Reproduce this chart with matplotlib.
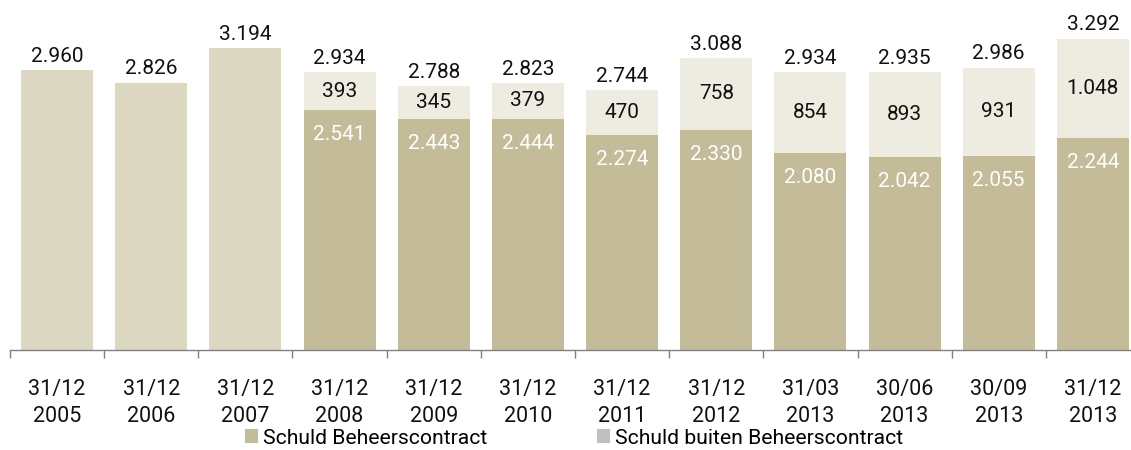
import matplotlib
matplotlib.use("Agg")
import matplotlib.pyplot as plt
from matplotlib.patches import Patch
from matplotlib.ticker import FixedLocator

plt.rcParams.update({
    "font.family": ["Roboto", "DejaVu Sans"],
    "font.size": 14,
})

# ── Data ──────────────────────────────────────────────────────────────
dates = ["31/12\n2005", "31/12\n2006", "31/12\n2007", "31/12\n2008",
         "31/12\n2009", "31/12\n2010", "31/12\n2011", "31/12\n2012",
         "31/03\n2013", "30/06\n2013", "30/09\n2013", "31/12\n2013"]
totals = [2960, 2826, 3194, 2934, 2788, 2823, 2744, 3088, 2934, 2935, 2986, 3292]
# split only known from 2008 on
binnen = [None, None, None, 2541, 2443, 2444, 2274, 2330, 2080, 2042, 2055, 2244]
buiten = [None, None, None, 393, 345, 379, 470, 758, 854, 893, 931, 1048]

# ── Colours ───────────────────────────────────────────────────────────
c_total = "#ddd8c2"
c_binnen = "#c4bc98"
c_buiten = "#eeebe0"
c_legend_grey = "#c0c0c0"
c_text = "#111111"


def fmt(v):
    return f"{v:,}".replace(",", ".")


def main():
    fig = plt.figure(figsize=(11.31, 4.5), dpi=100)
    ax = fig.add_axes([10 / 1131, 100 / 450, 1130 / 1131, 350 / 450])
    ax.set_xlim(-0.5, len(dates) - 0.5)
    ax.set_ylim(0, 3700)

    bw = 0.765
    x = list(range(len(dates)))
    for i in x:
        if binnen[i] is None:
            ax.bar(i, totals[i], width=bw, color=c_total, linewidth=0)
        else:
            ax.bar(i, binnen[i], width=bw, color=c_binnen, linewidth=0)
            ax.bar(i, buiten[i], bottom=binnen[i], width=bw,
                   color=c_buiten, linewidth=0)
            ax.text(i, binnen[i] + buiten[i] / 2, fmt(buiten[i]),
                    ha="center", va="center", fontsize=15, color=c_text)
            ax.text(i, binnen[i] - 260, fmt(binnen[i]),
                    ha="center", va="center", fontsize=15, color="white")
        ax.text(i, totals[i] + 45, fmt(totals[i]),
                ha="center", va="bottom", fontsize=15, color=c_text)

    # ── Axes styling ──────────────────────────────────────────────────
    for s in ("top", "right", "left"):
        ax.spines[s].set_visible(False)
    ax.spines["bottom"].set_color("#808080")
    ax.spines["bottom"].set_linewidth(1.0)
    ax.set_yticks([])
    ax.set_xticks(x)
    ax.set_xticklabels(dates, fontsize=15.5, color=c_text, linespacing=1.35)
    ax.tick_params(axis="x", which="major", length=0, pad=21)
    ax.xaxis.set_minor_locator(FixedLocator([k - 0.5 for k in range(len(dates) + 1)]))
    ax.tick_params(axis="x", which="minor", length=6, width=1.0,
                   color="#808080", direction="out")

    # ── Legend ────────────────────────────────────────────────────────
    handles = [Patch(facecolor=c_binnen, edgecolor="none"),
               Patch(facecolor=c_legend_grey, edgecolor="none")]
    fig.legend(handles, ["Schuld Beheerscontract", "Schuld buiten Beheerscontract"],
               loc="center left", bbox_to_anchor=(245 / 1131, 12 / 450),
               ncol=2, frameon=False, fontsize=15.2,
               handlelength=0.62, handleheight=0.62, handletextpad=0.24,
               columnspacing=5.2, borderaxespad=0, borderpad=0)

    fig.savefig("out.png", dpi=100)


if __name__ == "__main__":
    main()
